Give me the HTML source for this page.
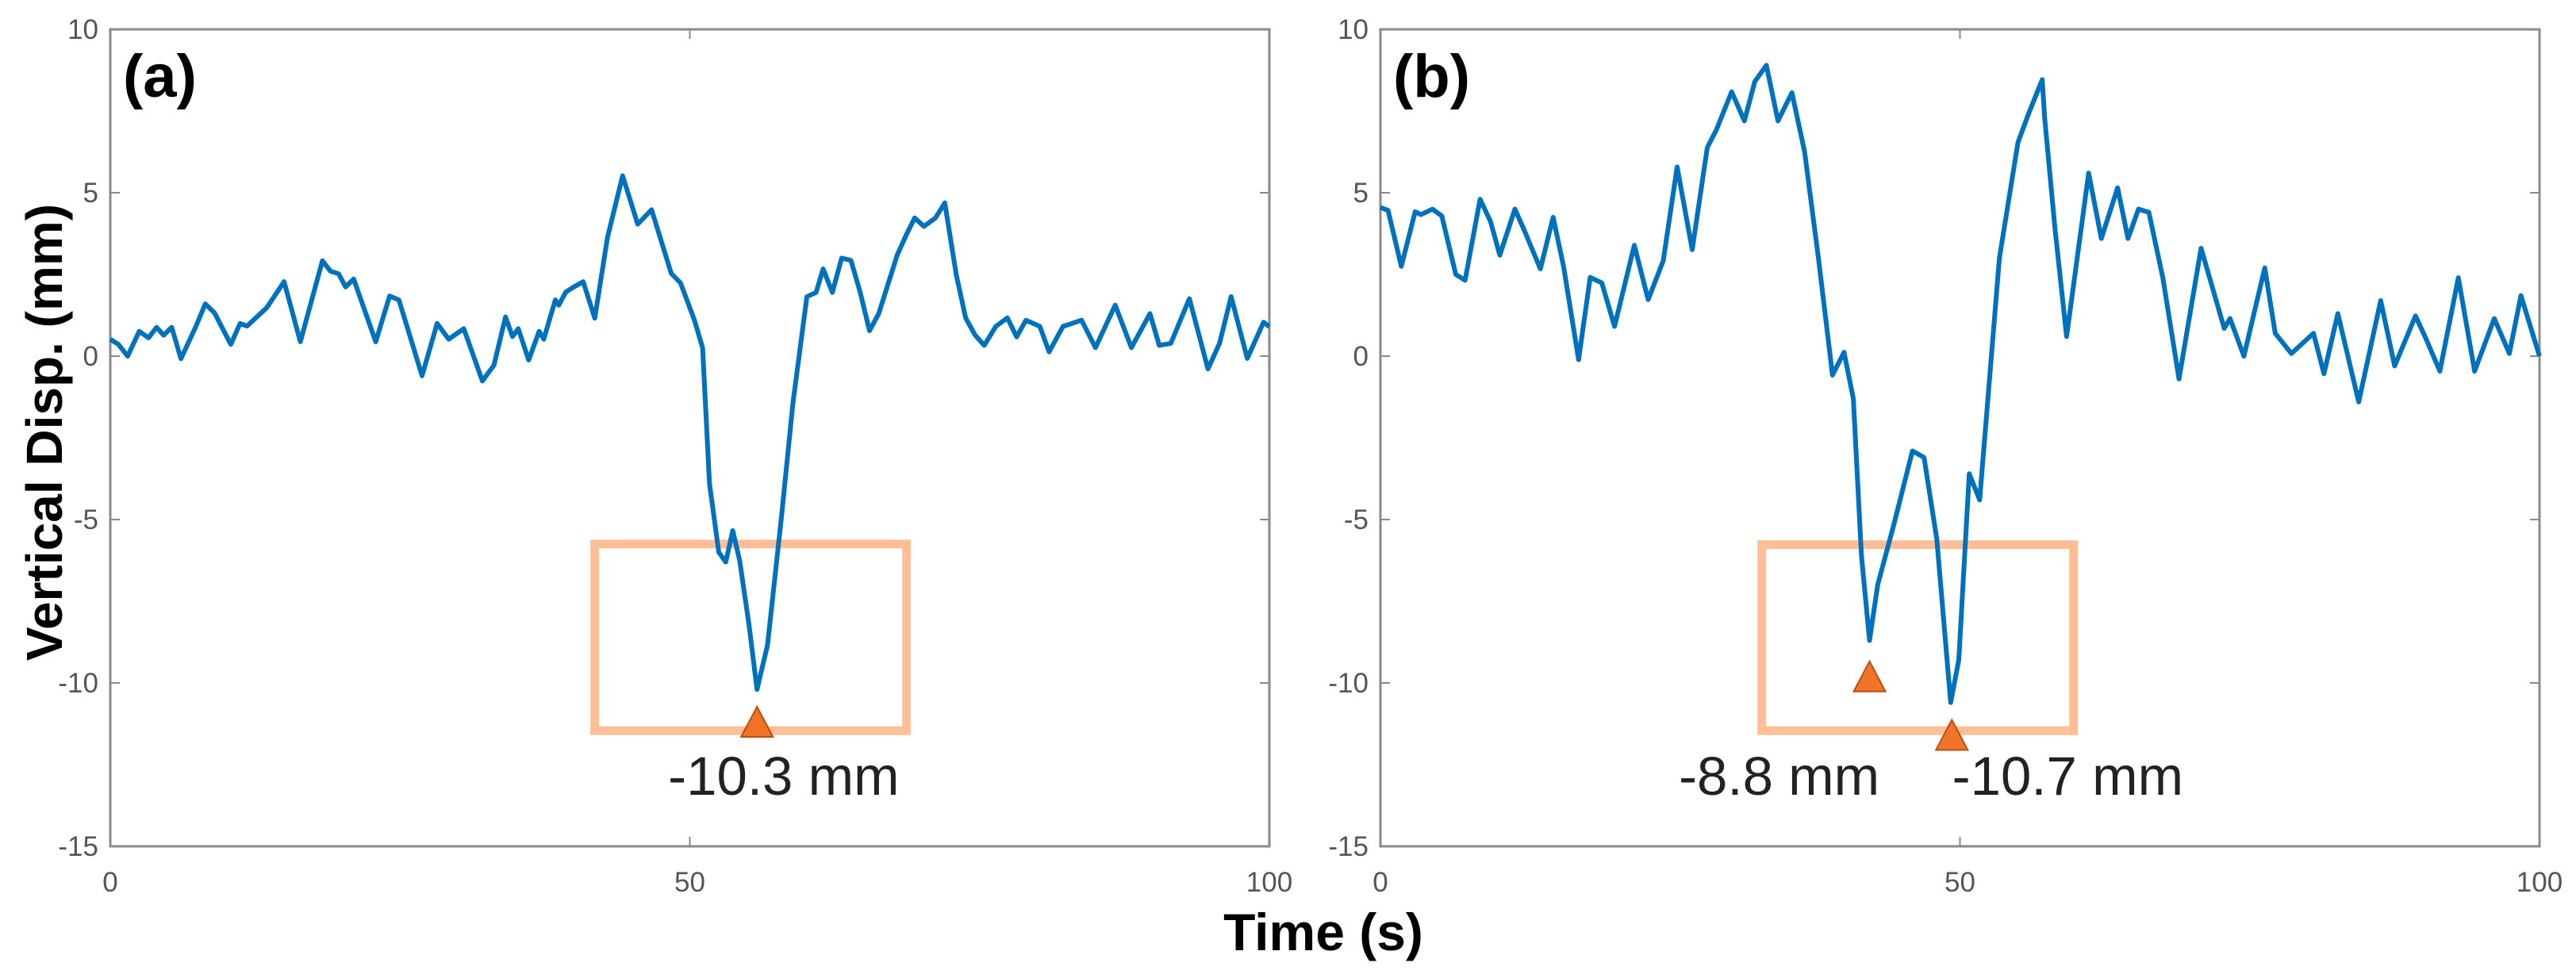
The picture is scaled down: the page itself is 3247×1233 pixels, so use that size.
<!DOCTYPE html>
<html><head><meta charset="utf-8"><style>
html,body{margin:0;padding:0;background:#fff;}
svg{display:block;font-family:"Liberation Sans",Arial,sans-serif;}
</style></head><body>
<svg id="fig" width="3247" height="1233" viewBox="0 0 3247 1233" xmlns="http://www.w3.org/2000/svg">
<text x="0" y="0" transform="translate(78,545) rotate(-90)" text-anchor="middle" font-size="64" font-weight="bold" fill="#000">Vertical Disp. (mm)</text>
<text x="1668" y="1198" text-anchor="middle" font-size="66" font-weight="bold" fill="#000">Time (s)</text>
<g id="panelA"></g>
<g id="panelB"></g>
</svg>
<script>
const xTicks = [0, 50, 100];
const yTicks = [10, 5, 0, -5, -10, -15];
const tA = [0,0.7,1.5,2.5,3.3,4,4.6,5.3,6.1,7.4,8.2,9.0,10.4,11.2,11.8,13.5,15.0,16.4,18.3,19.0,19.7,20.3,21.0,22.9,24.1,24.9,26.9,28.2,29.2,30.5,32.1,33.1,34.1,34.7,35.2,36.1,37.0,37.4,38.4,38.7,39.3,40.0,40.8,41.8,42.9,44.2,45.5,46.7,48.4,49.2,50.4,51.1,51.7,52.5,53.1,53.7,54.3,55.1,55.8,56.7,57.9,58.9,60.1,60.9,61.5,62.3,63.1,63.9,64.7,65.5,66.3,67.9,68.6,69.4,70.2,71.2,72.0,73.0,73.8,74.6,75.4,76.4,77.4,78.2,79.0,80.2,81.0,82.2,83.8,85.0,86.7,88.1,89.7,90.5,91.5,93.1,94.7,95.7,96.7,98.1,99.5,100];
const yA = [0.52,0.36,0,0.76,0.56,0.88,0.64,0.88,-0.08,0.92,1.6,1.32,0.36,1.0,0.92,1.48,2.28,0.44,2.92,2.6,2.52,2.12,2.36,0.44,1.84,1.72,-0.6,1.0,0.52,0.84,-0.76,-0.28,1.2,0.6,0.84,-0.12,0.76,0.52,1.72,1.56,1.96,2.12,2.28,1.16,3.64,5.52,4.04,4.48,2.53,2.24,1.1,0.26,-3.9,-6.0,-6.3,-5.34,-6.25,-8.2,-10.2,-8.85,-4.95,-1.43,1.82,1.95,2.67,1.95,3.0,2.93,1.95,0.78,1.3,3.1,3.65,4.23,3.97,4.23,4.69,2.47,1.17,0.65,0.33,0.91,1.17,0.59,1.1,0.91,0.13,0.91,1.1,0.26,1.56,0.26,1.3,0.33,0.39,1.76,-0.39,0.39,1.82,-0.07,1.04,0.9];
const tB = [0,0.66,1.8,3.0,3.5,4.5,5.3,6.5,7.3,8.6,9.5,10.3,11.6,12.4,13.8,14.9,15.8,17.1,18.1,19.1,20.2,21.9,23.1,24.4,25.6,26.9,28.2,29.0,30.3,31.4,32.3,33.3,34.3,35.5,36.6,37.8,39.0,40.0,40.8,41.5,42.2,42.9,44.3,45.9,46.9,48.0,49.2,49.9,50.8,51.7,53.4,55.0,55.9,57.1,57.3,58.2,59.2,61.1,62.2,63.6,64.5,65.4,66.3,67.5,68.9,70.8,72.8,73.3,74.5,76.3,77.2,78.6,80.5,81.4,82.6,84.4,86.3,87.5,89.3,90.2,91.4,93.0,94.4,96.1,97.4,98.4,100];
const yB = [4.55,4.46,2.75,4.42,4.33,4.5,4.29,2.5,2.32,4.8,4.12,3.09,4.5,3.86,2.67,4.25,2.75,-0.11,2.41,2.24,0.91,3.39,1.73,2.92,5.79,3.26,6.38,6.94,8.09,7.2,8.4,8.9,7.2,8.06,6.25,2.96,-0.58,0.12,-1.3,-6.1,-8.7,-7.0,-5.15,-2.9,-3.1,-5.6,-10.6,-9.3,-3.6,-4.4,3.0,6.54,7.4,8.46,7.3,3.9,0.6,5.6,3.6,5.15,3.6,4.5,4.4,2.4,-0.7,3.3,0.85,1.15,0,2.7,0.7,0.08,0.7,-0.54,1.3,-1.4,1.7,-0.3,1.23,0.54,-0.46,2.4,-0.46,1.15,0.08,1.85,0];
const boxA = [41.8, 68.7, -5.75, -11.46];
const boxB = [32.9, 59.8, -5.77, -11.46];
const peaksA = [55.8];
const peakYA = [-11.65];
const peaksB = [42.2, 49.3];
const peakYB = [-10.26, -12.05];
const labelsA = ["-10.3 mm"];
const labelsB = ["-8.8 mm", "-10.7 mm"];
const labelXA = [58.1];
const labelXB = [34.4, 59.3];

const NS = "http://www.w3.org/2000/svg";
function mk(tag, attrs, parent){const e=document.createElementNS(NS,tag);for(const k in attrs)e.setAttribute(k,attrs[k]);parent.appendChild(e);return e;}

function panel(g, x0, tArr, yArr, box, pk, pkY, labs, labX, tag){
  const W=1461, top=37, bot=1067;
  const sx = t => x0 + t/100*W;
  const sy = v => top + (10 - v)/25*(bot-top);
  let el;
  el = mk("rect",{x:x0,y:top,width:W,height:bot-top,fill:"none",stroke:"#8a8a8a","stroke-width":3},g);
  
  
  yTicks.forEach(v=>{
    el = mk("line",{x1:x0,x2:x0+12,y1:sy(v),y2:sy(v),stroke:"#8a8a8a","stroke-width":2},g);
    
    
    el = mk("line",{x1:x0+W,x2:x0+W-12,y1:sy(v),y2:sy(v),stroke:"#8a8a8a","stroke-width":2},g);
    
    
    el = mk("text",{x:x0-15,y:sy(v)+12,"text-anchor":"end","font-size":35,fill:"#555"},g);
    el.textContent=v;
    
    
  });
  xTicks.forEach(t=>{
    el = mk("line",{x1:sx(t),x2:sx(t),y1:bot,y2:bot-12,stroke:"#8a8a8a","stroke-width":2},g);
    
    
    el = mk("line",{x1:sx(t),x2:sx(t),y1:top,y2:top+12,stroke:"#8a8a8a","stroke-width":2},g);
    
    
    el = mk("text",{x:sx(t),y:1124,"text-anchor":"middle","font-size":35,fill:"#555"},g);
    el.textContent=t;
    
    
  });
  el = mk("rect",{x:sx(box[0]),y:sy(box[2]),width:sx(box[1])-sx(box[0]),height:sy(box[3])-sy(box[2]),fill:"none",stroke:"#FFBE96","stroke-width":11},g);
  
  
  let d = tArr.map((t,i)=>(i?"L":"M")+sx(t).toFixed(1)+","+sy(yArr[i]).toFixed(1)).join(" ");
  el = mk("path",{d:d,fill:"none",stroke:"#0072BD","stroke-width":6,"stroke-linejoin":"round"},g);
  
  
  pk.forEach((t,i)=>{
    const cx=sx(t), by=sy(pkY[i]);
    el = mk("polygon",{points:`${cx-20},${by} ${cx+20},${by} ${cx},${by-38}`,fill:"#F07427",stroke:"#B84E14","stroke-width":2},g);
    
    
  });
  labs.forEach((s,i)=>{
    el = mk("text",{x:sx(labX[i]),y:1002,"text-anchor":"middle","font-size":69,fill:"#222"},g);
    el.textContent=s;
    
    
  });
  el = mk("text",{x:x0+16,y:122,"font-size":76,"font-weight":"bold",fill:"#000"},g);
  el.textContent=tag;
  
  
}
panel(document.getElementById("panelA"),139,tA,yA,boxA,peaksA,peakYA,labelsA,labelXA,"(a)");
panel(document.getElementById("panelB"),1740,tB,yB,boxB,peaksB,peakYB,labelsB,labelXB,"(b)");
</script>
</body></html>
